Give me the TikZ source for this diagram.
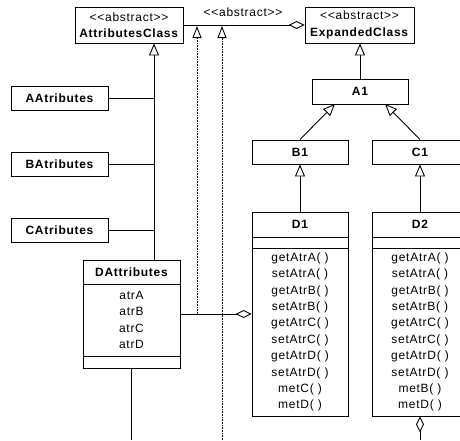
\documentclass[tikz,border=0pt]{standalone}
\usepackage{fontspec}
\setmainfont[LetterSpace=6, Ligatures=TeXOff]{Liberation Sans}
\usetikzlibrary{arrows.meta}

\tikzset{
  txt/.style={font=\fontsize{12}{16.4}\selectfont, inner sep=0pt},
  box/.style={draw, line width=0.9pt, fill=white, inner sep=0pt, align=center,
              font=\fontsize{12}{16.4}\selectfont},
  title/.style={box, font=\fontsize{12}{17}\selectfont\bfseries},
  link/.style={line width=0.9pt},
  inherit/.style={link, -{Triangle[open, length=12pt, width=10pt]}},
  realize/.style={line width=0.6pt, densely dotted, -{Triangle[open, length=12pt, width=9pt, line width=0.9pt]}},
  aggr/.style={link, -{Diamond[open, length=16pt, width=8pt]}},
  raggr/.style={link, {Diamond[open, length=16pt, width=8pt]}-},
}

\begin{document}
\begin{tikzpicture}[x=1pt, y=-1pt]
\useasboundingbox (0,0) rectangle (460,440);
\clip (0,0) rectangle (460,440);

% abstract classes
\node[box, minimum width=108pt, minimum height=36pt] (ac) at (129,25)
  {<<abstract>>\\\textbf{AttributesClass}};
\node[box, minimum width=109pt, minimum height=36pt] (ec) at (359.5,25)
  {<<abstract>>\\\textbf{ExpandedClass}};
\node[txt] (lbl) at (243,12) {<<abstract>>};

% attribute classes
\node[title, minimum width=97pt, minimum height=24pt] (aa) at (59.5,98) {AAtributes};
\node[title, minimum width=97pt, minimum height=24pt] (ba) at (59.5,164) {BAtributes};
\node[title, minimum width=97pt, minimum height=24pt] (ca) at (59.5,230) {CAtributes};

% DAttributes (three compartments)
\node[title, minimum width=97pt, minimum height=24pt] (dat) at (131.5,272) {DAttributes};
\node[box, minimum width=97pt, minimum height=72pt] (daa) at (131.5,320)
  {atrA\\atrB\\atrC\\atrD};
\node[box, minimum width=97pt, minimum height=12pt] (dao) at (131.5,362) {};

% expanded hierarchy
\node[title, minimum width=96pt, minimum height=25pt] (a1) at (360,91.5) {A1};
\node[title, minimum width=96pt, minimum height=24pt] (b1) at (300,152) {B1};
\node[title, minimum width=96pt, minimum height=24pt] (c1) at (420,152) {C1};

% D1
\node[title, minimum width=96pt, minimum height=25pt] (d1) at (300,224.5) {D1};
\node[box, minimum width=96pt, minimum height=11pt] (d1a) at (300,242.5) {};
\node[box, minimum width=96pt, minimum height=168pt] (d1o) at (300,332)
  {getAtrA( )\\setAtrA( )\\getAtrB( )\\setAtrB( )\\getAtrC( )\\setAtrC( )\\getAtrD( )\\setAtrD( )\\metC( )\\metD( )};

% D2
\node[title, minimum width=96pt, minimum height=25pt] (d2) at (420,224.5) {D2};
\node[box, minimum width=96pt, minimum height=11pt] (d2a) at (420,242.5) {};
\node[box, minimum width=96pt, minimum height=168pt] (d2o) at (420,332)
  {getAtrA( )\\setAtrA( )\\getAtrB( )\\setAtrB( )\\getAtrC( )\\setAtrC( )\\getAtrD( )\\setAtrD( )\\metB( )\\metD( )};

% helper points
\coordinate (trunk) at (154,0);
\coordinate (join) at (180,314);
\coordinate (dotA) at (197,26);
\coordinate (dotB) at (222,26);
\coordinate (bottom) at (0,440);
\coordinate (a1l) at (335,104);
\coordinate (a1r) at (385,104);

% AttributesClass generalisation tree
\draw[inherit] (dat.north -| trunk) -- (ac.south -| trunk);
\draw[link] (aa.east) -- (aa.east -| trunk);
\draw[link] (ba.east) -- (ba.east -| trunk);
\draw[link] (ca.east) -- (ca.east -| trunk);
\draw[link] (dao.south) -- (dao.south |- bottom);

% aggregation between the abstract classes
\draw[aggr] (ac.east) -- (ec.west);

% dotted realisation lines
\draw[realize] (dotA |- join) -- (dotA);
\draw[realize] (dotB |- bottom) -- (dotB);

% DAttributes aggregated into D1
\draw[aggr] (join) -- (join -| d1o.west);

% expanded class hierarchy
\draw[inherit] (a1.north) -- (ec.south -| a1.north);
\draw[inherit] (b1.north) -- (a1l);
\draw[inherit] (c1.north) -- (a1r);
\draw[inherit] (d1.north) -- (b1.south);
\draw[inherit] (d2.north) -- (c1.south);
\draw[raggr] (d2o.south) -- (d2o.south |- bottom);
\end{tikzpicture}
\end{document}
